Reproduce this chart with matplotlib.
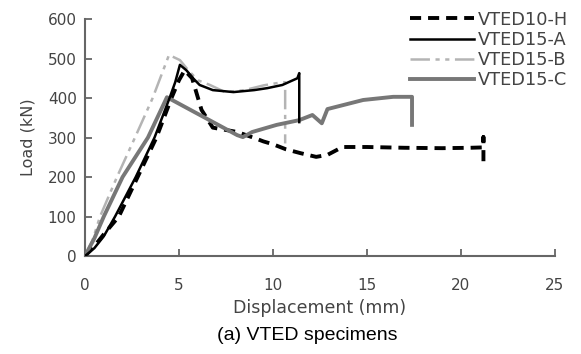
import matplotlib
matplotlib.use("Agg")
import matplotlib.pyplot as plt

plt.rcParams['lines.scale_dashes'] = False
plt.rcParams['font.family'] = ['DejaVu Sans']

# VTED10-H
h_x = [0, 0.5, 1.0, 1.8, 2.8, 3.8, 4.6, 5.0, 5.3, 5.7, 6.2, 6.8, 8.1, 9.0, 9.5, 10.0, 10.7, 11.5,
       12.3, 12.9, 13.7, 15.0, 17.0, 19.0, 20.5, 21.2, 21.2, 21.2]
h_y = [0, 25, 55, 100, 200, 300, 400, 445, 470, 450, 370, 325, 314, 299, 290, 283, 270, 260,
       251, 256, 276, 276, 274, 273, 274, 275, 301, 240]
# VTED15-A
a_x = [0, 0.5, 1.0, 1.6, 2.7, 3.7, 4.5, 4.8, 5.05, 5.4, 5.75, 6.1, 6.8, 7.9, 9.0, 9.7, 10.5,
       11.3, 11.4, 11.4]
a_y = [0, 20, 50, 100, 200, 300, 400, 440, 484, 470, 450, 433, 420, 415, 420, 425, 433,
       450, 463, 339]
# VTED15-B
b_x = [0, 0.4, 0.8, 1.7, 2.66, 3.6, 4.47, 5.05, 5.5, 6.0, 6.65, 7.45, 8.5, 9.5, 10.5, 10.65, 10.65]
b_y = [0, 40, 100, 200, 300, 400, 509, 496, 470, 445, 433, 415, 420, 432, 440, 440, 285]
# VTED15-C
c_x = [0, 0.5, 1.0, 2.0, 3.35, 4.36, 8.1, 8.4, 8.9, 10.2, 11.4, 12.1, 12.6, 12.9, 14.8, 16.4,
       17.4, 17.4]
c_y = [0, 45, 100, 200, 300, 402, 306, 301, 314, 332, 344, 357, 336, 372, 395, 403,
       403, 332]

labels = ["VTED10-H", "VTED15-A", "VTED15-B", "VTED15-C"]
x_ticks = [0, 5, 10, 15, 20, 25]
y_ticks = [0, 100, 200, 300, 400, 500, 600]

fig = plt.figure(figsize=(5.81, 3.54), dpi=100)
ax = fig.add_axes([0.1463, 0.2768, 0.955 - 0.1463, 0.9463 - 0.2768])

ax.plot(h_x, h_y, color='black', lw=2.8, linestyle=(0, (8, 5)), label=labels[0], zorder=3)
ax.plot(a_x, a_y, color='black', lw=1.8, label=labels[1], zorder=4)
ax.plot(b_x, b_y, color='#b4b4b4', lw=1.8, linestyle=(0, (14, 4, 3, 4, 3, 4)), label=labels[2], zorder=2)
ax.plot(c_x, c_y, color='#777777', lw=2.8, label=labels[3], zorder=3)

ax.set_xlim(0, 25)
ax.set_ylim(0, 600)
ax.set_xticks(x_ticks)
ax.set_yticks(y_ticks)
for s in ['top', 'right']:
    ax.spines[s].set_visible(False)
for s in ['left', 'bottom']:
    ax.spines[s].set_color('#666666')
    ax.spines[s].set_linewidth(1.5)
ax.tick_params(direction='in', length=5, width=1.3, color='#666666',
               labelcolor='#444444', labelsize=11)
ax.tick_params(axis='x', pad=16)
ax.tick_params(axis='y', pad=6)

ax.set_xlabel("Displacement (mm)", fontsize=12.5, color='#444444', labelpad=4)
ax.set_ylabel("Load (kN)", fontsize=11.5, color='#444444', labelpad=9)

fig.text(307 / 581, 1 - 336 / 354, "(a) VTED specimens", ha='center', va='center', fontsize=14,
         family='Liberation Sans', color='black')

leg = ax.legend(loc='upper right', bbox_to_anchor=(0.99, 0.99), bbox_transform=fig.transFigure,
                frameon=False, fontsize=12.8, handlelength=3.6, handletextpad=0.2,
                labelspacing=0.12, borderaxespad=0)
for t in leg.get_texts():
    t.set_color('#444444')

fig.savefig("out.png", dpi=100)
